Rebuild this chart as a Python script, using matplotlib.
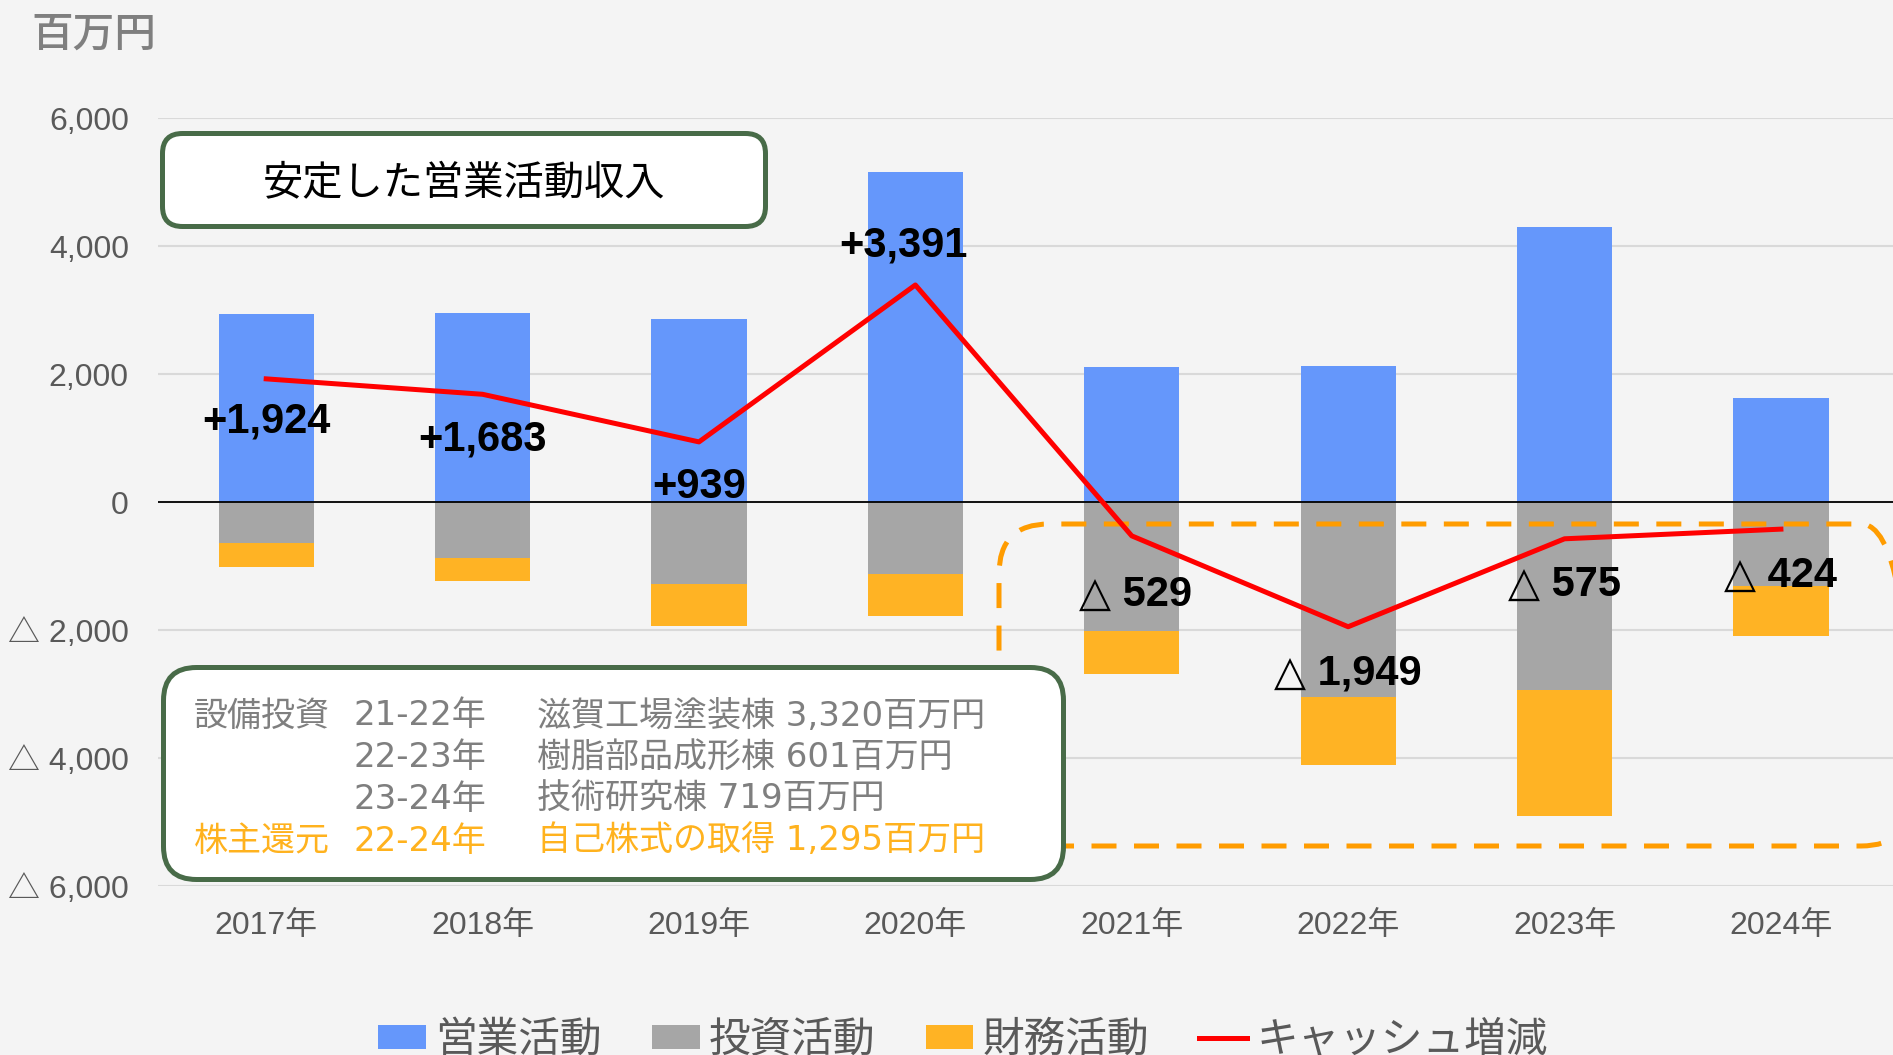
import matplotlib.pyplot as plt
import numpy as np
from matplotlib.patches import FancyBboxPatch
from matplotlib.ticker import FuncFormatter

plt.rcParams['font.family'] = ['Liberation Sans', 'Noto Sans CJK JP', 'DejaVu Sans']

# データ（百万円）
years = ['2017年', '2018年', '2019年', '2020年', '2021年', '2022年', '2023年', '2024年']
operating = [2934, 2950, 2861, 5158, 2110, 2126, 4302, 1629]
investing = [-638, -873, -1281, -1124, -2013, -3044, -2939, -1318]
financing = [-382, -367, -649, -653, -681, -1072, -1972, -773]
cash_change = [1924, 1683, 939, 3391, -529, -1949, -575, -424]

note_rows = [
    ('設備投資', '21-22年', '滋賀工場塗装棟 3,320百万円'),
    ('', '22-23年', '樹脂部品成形棟 601百万円'),
    ('', '23-24年', '技術研究棟 719百万円'),
    ('株主還元', '22-24年', '自己株式の取得 1,295百万円'),
]
note_colors = ['#7f7f7f', '#7f7f7f', '#7f7f7f', '#ffb21e']

# ラベル位置の微調整（ピクセル）
label_offsets = [(0, -43), (0, -45), (0, -45), (-12, 39), (4, -59), (0, -47), (0, -46), (0, -47)]

bg = '#f4f4f4'
green = '#486b48'


def yfmt(v, pos):
    if v < 0:
        return '△ {:,.0f}'.format(-v)
    return '{:,.0f}'.format(v)


def label_text(v):
    if v < 0:
        return '△ {:,}'.format(-v)
    return '+{:,}'.format(v)


fig = plt.figure(figsize=(18.93, 10.55), dpi=100, facecolor=bg)
ax = fig.add_axes([158 / 1893, 169 / 1055, 1 - 158 / 1893, 768 / 1055])
ax.set_facecolor(bg)

x = np.arange(len(years))
w = 0.44
ax.bar(x, operating, w, color='#6597fb', zorder=2, label='営業活動')
ax.bar(x, investing, w, color='#a6a6a6', zorder=2, label='投資活動')
ax.bar(x, financing, w, bottom=investing, color='#ffb324', zorder=2, label='財務活動')
ax.plot(x, cash_change, color='#ff0000', lw=3.6, zorder=4, label='キャッシュ増減')
ax.axhline(0, color='black', lw=1.3, zorder=3)

for i, v in enumerate(cash_change):
    ax.annotate(label_text(v), (x[i], v), xytext=label_offsets[i], textcoords='offset pixels',
                ha='center', va='center', fontsize=30, fontweight='bold', color='black',
                family=['Liberation Sans', 'DejaVu Sans'], zorder=6)

ax.set_xlim(-0.5, 7.518)
ax.set_ylim(-6000, 6000)
ax.set_xticks(x)
ax.set_xticklabels(years)
ax.set_yticks(np.arange(-6000, 6001, 2000))
ax.yaxis.set_major_formatter(FuncFormatter(yfmt))
ax.grid(axis='y', color='#d9d9d9', lw=1.5, zorder=0)
ax.set_axisbelow(True)
for s in ax.spines.values():
    s.set_visible(False)
ax.tick_params(axis='both', length=0, labelsize=23, labelcolor='#595959')
ax.tick_params(axis='y', pad=21)
ax.tick_params(axis='x', pad=18)

# 単位
fig.text(0.94 / 18.93, 10.21 / 10.55, '百万円', fontsize=30, color='#7f7f7f', fontweight='medium',
         ha='center', va='center', family=['Noto Sans CJK JP'])

# 破線の枠（2021年以降）
ax.add_patch(FancyBboxPatch((9.99, 2.09), 9.12, 3.22, boxstyle='round,pad=0,rounding_size=0.5',
                            transform=fig.dpi_scale_trans, fill=False, ec='#ff9c00', lw=3.6,
                            ls=(0, (5, 3.5)), clip_on=False, zorder=2.5))

# 上の吹き出し
ax.add_patch(FancyBboxPatch((1.625, 8.285), 6.03, 0.93, boxstyle='round,pad=0,rounding_size=0.2',
                            transform=fig.dpi_scale_trans, fc='white', ec=green, lw=3.6,
                            clip_on=False, zorder=5))
ax.text(4.64, 8.71, '安定した営業活動収入', transform=fig.dpi_scale_trans, fontsize=29,
        ha='center', va='center', color='black', family=['Noto Sans CJK JP'], zorder=6)

# 下の注記
ax.add_patch(FancyBboxPatch((1.635, 1.755), 9.0, 2.12, boxstyle='round,pad=0,rounding_size=0.33',
                            transform=fig.dpi_scale_trans, fc='white', ec=green, lw=3.6,
                            clip_on=False, zorder=5))
row_y = [3.39, 2.98, 2.56, 2.14]
col_x = [1.94, 3.54, 5.37]
for r, row in enumerate(note_rows):
    for c, t in enumerate(row):
        ax.text(col_x[c], row_y[r], t, transform=fig.dpi_scale_trans, fontsize=24.5,
                ha='left', va='center', color=note_colors[r],
                family=['DejaVu Sans', 'Noto Sans CJK JP'], zorder=6)

handles, labels = ax.get_legend_handles_labels()
order = [labels.index(n) for n in ['営業活動', '投資活動', '財務活動', 'キャッシュ増減']]
fig.legend([handles[i] for i in order], [labels[i] for i in order],
           loc='center', bbox_to_anchor=(963 / 1893, 15 / 1055), ncol=4, frameon=False,
           handlelength=1.15, handleheight=0.5, handletextpad=0.22,
           columnspacing=1.2, labelcolor='#595959', prop={'family': 'Noto Sans CJK JP', 'size': 30})

fig.savefig('out.png', dpi=100, facecolor=bg)
